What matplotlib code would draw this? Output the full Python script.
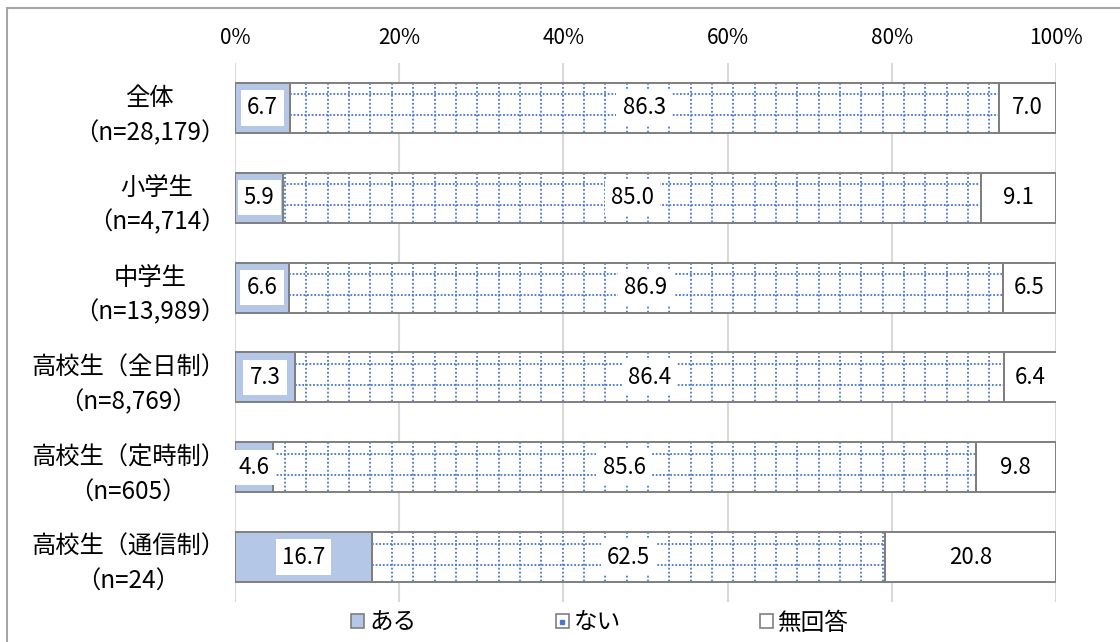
import numpy as np
import matplotlib
matplotlib.use("Agg")
import matplotlib.pyplot as plt
import matplotlib.transforms as mtransforms
from matplotlib.patches import Patch, Rectangle
from matplotlib.lines import Line2D
from matplotlib.legend_handler import HandlerTuple

plt.rcParams['font.family'] = ['Noto Sans CJK JP', 'DejaVu Sans']

categories = [
    "全体\n（n=28,179）",
    "小学生\n（n=4,714）",
    "中学生\n（n=13,989）",
    "高校生（全日制）\n（n=8,769）",
    "高校生（定時制）\n（n=605）",
    "高校生（通信制）\n（n=24）",
]
aru = [6.7, 5.9, 6.6, 7.3, 4.6, 16.7]
nai = [86.3, 85.0, 86.9, 86.4, 85.6, 62.5]
mukaitou = [7.0, 9.1, 6.5, 6.4, 9.8, 20.8]
series_names = ["ある", "ない", "無回答"]
x_ticks = [0, 20, 40, 60, 80, 100]

W, H = 1120, 642
fig = plt.figure(figsize=(W / 100, H / 100), dpi=100)
ax = fig.add_axes([235 / W, 1 - 602 / H, (1056 - 235) / W, (602 - 63) / H])

edge = "#7f7f7f"
blue_fill = "#b4c7e7"
dot_blue = "#4677d0"
bar_h = 0.556
y = np.arange(len(categories))

aru_a = np.array(aru)
nai_a = np.array(nai)
mu_a = np.array(mukaitou)
lefts = [np.zeros(len(y)), aru_a, aru_a + nai_a]
values = [aru_a, nai_a, mu_a]
faces = [blue_fill, "white", "white"]

# filled segments
fill_bars = []
for left, val, fc in zip(lefts, values, faces):
    fill_bars.append(ax.barh(y, val, left=left, height=bar_h, color=fc,
                             edgecolor="none", zorder=2))

# dotted grid pattern inside the "ない" segments
step = 2.6
for rect in fill_bars[1]:
    x0, x1 = rect.get_x(), rect.get_x() + rect.get_width()
    yc = rect.get_y() + rect.get_height() / 2
    xs = np.arange(0.9, 100, step)
    xs = xs[(xs > x0) & (xs < x1)]
    vl = ax.vlines(xs, rect.get_y(), rect.get_y() + rect.get_height(),
                   colors=dot_blue, linewidth=1.3, linestyles=(0, (1, 1.2)),
                   zorder=2.5)
    hl = ax.hlines([yc - 0.15, yc + 0.083], x0, x1, colors=dot_blue,
                   linewidth=1.3, linestyles=(0, (1, 1.0)), zorder=2.5)
    vl.set_clip_path(rect)
    hl.set_clip_path(rect)

# segment outlines
for left, val in zip(lefts, values):
    ax.barh(y, val, left=left, height=bar_h, facecolor="none",
            edgecolor=edge, linewidth=1.4, zorder=3)

# value labels
for left, val in zip(lefts, values):
    for yi, l, v in zip(y, left, val):
        ax.text(l + v / 2, yi, f"{v:.1f}", ha="center", va="center",
                fontsize=16, color="black", zorder=5,
                bbox=dict(boxstyle="square,pad=0.28", facecolor="white",
                          edgecolor="none"))

ax.set_xlim(0, 100)
ax.set_ylim(len(categories) - 0.5, -0.5)
ax.set_xticks(x_ticks)
ax.set_xticklabels([f"{t}%" for t in x_ticks], fontsize=15)
ax.xaxis.tick_top()
ax.tick_params(axis="x", length=0, pad=10)
ax.set_yticks(y)
ax.set_yticklabels(categories, fontsize=17.5, linespacing=1.45)
lift = mtransforms.ScaledTranslation(0, 6 / 100, fig.dpi_scale_trans)
for t in ax.get_yticklabels():
    t.set_multialignment("center")
    t.set_transform(t.get_transform() + lift)
ax.tick_params(axis="y", length=0, pad=7)
ax.grid(axis="x", color="#d9d9d9", linewidth=1.5, zorder=0)
ax.set_axisbelow(True)
for s in ax.spines.values():
    s.set_visible(False)

handles = [
    Patch(facecolor=blue_fill, edgecolor=edge, linewidth=1.2),
    (Patch(facecolor="white", edgecolor=edge, linewidth=1.2),
     Line2D([], [], marker="s", markersize=2.2, color=dot_blue, linestyle="")),
    Patch(facecolor="white", edgecolor=edge, linewidth=1.2),
]
fig.legend(handles, series_names, loc="center",
           bbox_to_anchor=(600 / W, 1 - 623 / H), ncol=3, frameon=False,
           fontsize=17, handlelength=0.55, handleheight=0.55,
           handletextpad=0.2, columnspacing=5.9,
           handler_map={tuple: HandlerTuple(ndivide=1)})

# chart frame
fig.add_artist(Rectangle((7 / W, -0.1), 1.2, 1 - 7.5 / H + 0.1,
                         transform=fig.transFigure, fill=False,
                         edgecolor="#a6a6a6", linewidth=1.5))

fig.savefig("out.png", dpi=100)
